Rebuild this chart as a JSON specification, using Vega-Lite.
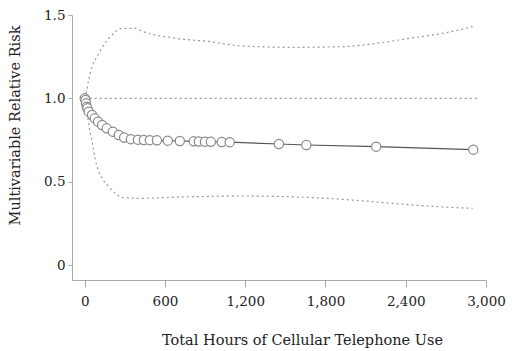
{
  "$schema": "https://vega.github.io/schema/vega-lite/v6.json",
  "width": 414,
  "height": 265,
  "autosize": {"type": "none"},
  "padding": {"left": 72, "top": 15, "right": 26, "bottom": 71},
  "background": "white",
  "config": {
    "view": {"stroke": null},
    "font": "DejaVu Serif",
    "axis": {
      "grid": false,
      "domainColor": "#aaaaaa",
      "tickColor": "#aaaaaa",
      "labelFont": "DejaVu Serif",
      "titleFont": "DejaVu Serif",
      "labelColor": "#222222",
      "titleColor": "#222222",
      "labelFontSize": 13.5,
      "titleFontSize": 14.5,
      "titleFontWeight": "normal"
    }
  },
  "datasets": {
    "risk": [
      {"hours": 0, "rr": 1.0},
      {"hours": 5, "rr": 0.99},
      {"hours": 10, "rr": 0.97},
      {"hours": 15, "rr": 0.95},
      {"hours": 20, "rr": 0.94},
      {"hours": 30, "rr": 0.92},
      {"hours": 55, "rr": 0.9},
      {"hours": 75, "rr": 0.88},
      {"hours": 100, "rr": 0.86},
      {"hours": 130, "rr": 0.84},
      {"hours": 165, "rr": 0.82},
      {"hours": 210, "rr": 0.8},
      {"hours": 255, "rr": 0.78},
      {"hours": 295, "rr": 0.765},
      {"hours": 345, "rr": 0.755},
      {"hours": 398, "rr": 0.752},
      {"hours": 442, "rr": 0.75},
      {"hours": 487, "rr": 0.749},
      {"hours": 540, "rr": 0.748},
      {"hours": 621, "rr": 0.746},
      {"hours": 711, "rr": 0.744},
      {"hours": 815, "rr": 0.742},
      {"hours": 853, "rr": 0.741},
      {"hours": 899, "rr": 0.74},
      {"hours": 943, "rr": 0.739},
      {"hours": 1024, "rr": 0.738},
      {"hours": 1084, "rr": 0.737},
      {"hours": 1452, "rr": 0.726},
      {"hours": 1657, "rr": 0.72},
      {"hours": 2179, "rr": 0.71},
      {"hours": 2905, "rr": 0.692}
    ],
    "ci": [
      {"bound": "upper", "hours": 0, "rr": 1.0},
      {"bound": "upper", "hours": 5, "rr": 1.01},
      {"bound": "upper", "hours": 30, "rr": 1.11},
      {"bound": "upper", "hours": 55, "rr": 1.19},
      {"bound": "upper", "hours": 92, "rr": 1.25},
      {"bound": "upper", "hours": 142, "rr": 1.32},
      {"bound": "upper", "hours": 204, "rr": 1.38},
      {"bound": "upper", "hours": 278, "rr": 1.42},
      {"bound": "upper", "hours": 378, "rr": 1.42},
      {"bound": "upper", "hours": 437, "rr": 1.4},
      {"bound": "upper", "hours": 687, "rr": 1.36},
      {"bound": "upper", "hours": 935, "rr": 1.34},
      {"bound": "upper", "hours": 1184, "rr": 1.314},
      {"bound": "upper", "hours": 1557, "rr": 1.306},
      {"bound": "upper", "hours": 1930, "rr": 1.31},
      {"bound": "upper", "hours": 2179, "rr": 1.33},
      {"bound": "upper", "hours": 2428, "rr": 1.36},
      {"bound": "upper", "hours": 2676, "rr": 1.39},
      {"bound": "upper", "hours": 2900, "rr": 1.43},
      {"bound": "lower", "hours": 0, "rr": 1.0},
      {"bound": "lower", "hours": 20, "rr": 0.9},
      {"bound": "lower", "hours": 40, "rr": 0.8},
      {"bound": "lower", "hours": 60, "rr": 0.72},
      {"bound": "lower", "hours": 80, "rr": 0.63},
      {"bound": "lower", "hours": 100, "rr": 0.57},
      {"bound": "lower", "hours": 130, "rr": 0.52},
      {"bound": "lower", "hours": 180, "rr": 0.47},
      {"bound": "lower", "hours": 230, "rr": 0.43},
      {"bound": "lower", "hours": 280, "rr": 0.405},
      {"bound": "lower", "hours": 400, "rr": 0.4},
      {"bound": "lower", "hours": 810, "rr": 0.41},
      {"bound": "lower", "hours": 1184, "rr": 0.414},
      {"bound": "lower", "hours": 1806, "rr": 0.4},
      {"bound": "lower", "hours": 2303, "rr": 0.37},
      {"bound": "lower", "hours": 2552, "rr": 0.354},
      {"bound": "lower", "hours": 2900, "rr": 0.34},
      {"bound": "ref", "hours": 0, "rr": 1.0},
      {"bound": "ref", "hours": 2935, "rr": 1.0}
    ]
  },
  "encoding": {
    "x": {
      "field": "hours",
      "type": "quantitative",
      "scale": {"domain": [-95, 3000], "nice": false, "zero": false},
      "axis": {
        "title": "Total Hours of Cellular Telephone Use",
        "values": [0, 600, 1200, 1800, 2400, 3000],
        "labelExpr": "format(datum.value, ',.0f')",
        "tickSize": 7,
        "labelPadding": 7,
        "titleX": 230,
        "titleY": 60,
        "titleAlign": "center",
        "titleBaseline": "middle",
        "labelFlush": false
      }
    },
    "y": {
      "field": "rr",
      "type": "quantitative",
      "scale": {"domain": [-0.09, 1.5], "nice": false, "zero": false},
      "axis": {
        "title": "Multivariable Relative Risk",
        "values": [0, 0.5, 1.0, 1.5],
        "labelExpr": "datum.value == 0 ? '0' : format(datum.value, '.1f')",
        "tickSize": 4,
        "labelPadding": 3,
        "titleX": -57,
        "titleY": 110,
        "titleAngle": -90,
        "titleAlign": "center",
        "titleBaseline": "middle",
        "labelFlush": false
      }
    }
  },
  "layer": [
    {
      "data": {"name": "ci"},
      "mark": {"type": "line", "strokeDash": [2, 3], "color": "#999999", "strokeWidth": 1.2, "interpolate": "monotone"},
      "encoding": {"detail": {"field": "bound"}}
    },
    {
      "data": {"name": "risk"},
      "mark": {"type": "line", "color": "#555555", "strokeWidth": 1.2},
      "encoding": {}
    },
    {
      "data": {"name": "risk"},
      "mark": {"type": "point", "shape": "circle", "filled": false, "fill": "white", "fillOpacity": 1, "stroke": "#888888", "strokeWidth": 1.2, "size": 85, "opacity": 1},
      "encoding": {}
    }
  ]
}
